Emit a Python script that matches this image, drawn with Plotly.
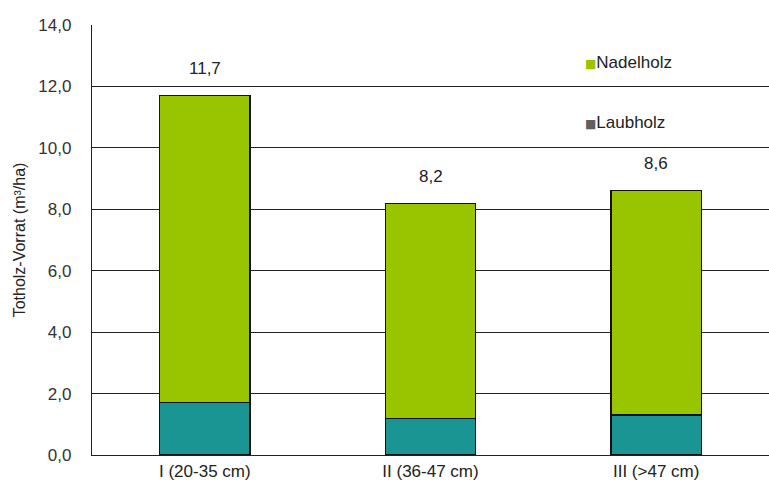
import plotly.graph_objects as go

categories = ["I (20-35 cm)", "II (36-47 cm)", "III (>47 cm)"]
laubholz = [1.7, 1.2, 1.3]
nadelholz = [10.0, 7.0, 7.3]
totals = [11.7, 8.2, 8.6]
total_labels = ["11,7", "8,2", "8,6"]
legend_names = ["Nadelholz", "Laubholz"]
legend_colors = ["#99c400", "#606060"]

GREEN = "#99c400"
TEAL = "#1b9594"
FONT = "Liberation Sans, Arial, sans-serif"
HS = 17

fig = go.Figure()
fig.add_trace(go.Bar(x=categories, y=laubholz, name="Laubholz", marker=dict(color=TEAL, line=dict(color="#111", width=1.2)), width=0.4, showlegend=False))
fig.add_trace(go.Bar(x=categories, y=nadelholz, name="Nadelholz", marker=dict(color=GREEN, line=dict(color="#111", width=1.2)), width=0.4, showlegend=False))

for c, t, lab in zip(categories, totals, total_labels):
    fig.add_annotation(x=c, y=t, text=lab, showarrow=False, yshift=27, font=dict(size=HS, color="#222", family=FONT))

# legend drawn as annotations (square marker right before the text)
for name, col, ypos in zip(legend_names, legend_colors, [0.912, 0.774]):
    fig.add_annotation(xref="paper", yref="paper", x=0.725, y=ypos, xanchor="left", yanchor="middle",
                       text=f'<span style="color:{col}; font-family:DejaVu Sans; font-size:12px">■</span>{name}', showarrow=False,
                       font=dict(size=HS, color="#222", family=FONT))

fig.update_layout(
    width=769, height=486,
    margin=dict(l=92, r=0, t=25, b=31),
    barmode="stack",
    paper_bgcolor="white", plot_bgcolor="white",
    separators=",.",
    font=dict(family=FONT, color="#222", size=HS),
    showlegend=False,
)
fig.update_yaxes(range=[0, 14], dtick=2, tickformat=".1f", showgrid=True, gridcolor="#222", gridwidth=1.4,
                 showline=True, linecolor="#222", linewidth=1.4, ticks="", ticklabelstandoff=16,
                 tickfont=dict(size=HS, color="#333"),
                 title=dict(text="Totholz-Vorrat (m³/ha)", font=dict(size=16, color="#222"), standoff=8), zeroline=False)
fig.update_xaxes(showline=True, linecolor="#222", linewidth=1.4, tickfont=dict(size=HS, color="#222"), ticks="")

fig.write_html("out.html")
